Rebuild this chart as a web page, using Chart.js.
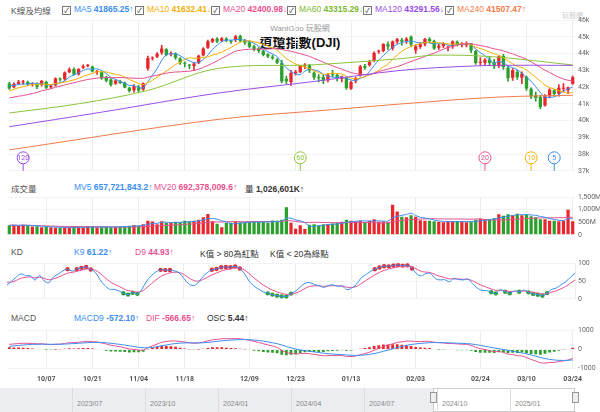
<!DOCTYPE html>
<html><head><meta charset="utf-8">
<script src="https://cdn.jsdelivr.net/npm/chart.js@4"></script>
<style>
body{margin:0;width:600px;height:412px;position:relative;background:#fff;font-family:"Liberation Sans","Noto Sans CJK TC",sans-serif;overflow:hidden}
canvas{position:absolute;left:0}
.hd{position:absolute;left:0;font-size:8.5px;color:#555;white-space:nowrap}
.hd span{position:absolute;top:0}
.hd b{font-weight:700}
.cb{display:inline-block;width:7px;height:7px;border:1px solid #777;font-size:7px;line-height:7px;text-align:center;margin-right:3px;color:#333;vertical-align:-1px;font-style:normal}
.nav{position:absolute;top:388px;height:24px;left:0;width:600px;background:#fff}
.nav div{position:absolute;top:0;height:24px;font-size:7px;color:#888}
</style></head><body>

<div class="hd" style="top:4px">
<span style="left:11px">K線及均線</span>
<span style="left:62px;color:#3a8ef0"><i class="cb">✓</i>MA5 <b>41865.25↑</b></span>
<span style="left:135px;color:#f5b000"><i class="cb">✓</i>MA10 <b>41632.41↓</b></span>
<span style="left:211px;color:#e8508f"><i class="cb">✓</i>MA20 <b>42400.98↓</b></span>
<span style="left:287px;color:#7cb82f"><i class="cb">✓</i>MA60 <b>43315.29↓</b></span>
<span style="left:363px;color:#9a4ce8"><i class="cb">✓</i>MA120 <b>43291.56↓</b></span>
<span style="left:445px;color:#f47a4a"><i class="cb">✓</i>MA240 <b>41507.47↑</b></span>
<span style="left:562px;color:#ccc;font-size:7px;top:6px">玩股網</span>
</div>
<div class="hd" style="top:22px;left:0;width:600px;text-align:center;color:#999;font-size:8px">WantGoo 玩股網</div>
<div class="hd" style="top:32px;left:0;width:600px;text-align:center;color:#111;font-size:13px;font-weight:700">道瓊指數(DJI)</div>

<div class="hd" style="top:182px">
<span style="left:11px">成交量</span>
<span style="left:74px;color:#3a8ef0">MV5 <b>657,721,843.2↑</b></span>
<span style="left:154px;color:#e8508f">MV20 <b>692,378,009.6↑</b></span>
<span style="left:245px;color:#333">量 <b>1,026,601K↑</b></span>
</div>
<div class="hd" style="top:247px">
<span style="left:11px">KD</span>
<span style="left:74px;color:#3a8ef0">K9 <b>61.22↑</b></span>
<span style="left:135px;color:#e8508f">D9 <b>44.93↑</b></span>
<span style="left:200px;color:#333">K值 &gt; 80為紅點</span>
<span style="left:270px;color:#333">K值 &lt; 20為綠點</span>
</div>
<div class="hd" style="top:313px">
<span style="left:11px">MACD</span>
<span style="left:74px;color:#3a8ef0">MACD9 <b>-572.10↑</b></span>
<span style="left:146px;color:#e8508f">DIF <b>-566.65↑</b></span>
<span style="left:207px;color:#333">OSC <b>5.44↑</b></span>
</div>

<canvas id="main" style="top:0" width="600" height="178"></canvas>
<canvas id="vol" style="top:190px" width="600" height="52"></canvas>
<canvas id="kd" style="top:256px" width="600" height="50"></canvas>
<canvas id="macd" style="top:323px" width="600" height="66"></canvas>
<div class="nav" id="nav"></div>

<script>
// trading days shown
const dates = [
 '09/25','09/26','09/27','09/30',
 '10/01','10/02','10/03','10/04','10/07','10/08','10/09','10/10','10/11','10/14','10/15','10/16','10/17','10/18','10/21','10/22','10/23','10/24','10/25','10/28','10/29','10/30','10/31',
 '11/01','11/04','11/05','11/06','11/07','11/08','11/11','11/12','11/13','11/14','11/15','11/18','11/19','11/20','11/21','11/22','11/25','11/26','11/27','11/29',
 '12/02','12/03','12/04','12/05','12/06','12/09','12/10','12/11','12/12','12/13','12/16','12/17','12/18','12/19','12/20','12/23','12/24','12/26','12/27','12/30','12/31',
 '01/02','01/03','01/06','01/07','01/08','01/10','01/13','01/14','01/15','01/16','01/17','01/21','01/22','01/23','01/24','01/27','01/28','01/29','01/30','01/31',
 '02/03','02/04','02/05','02/06','02/07','02/10','02/11','02/12','02/13','02/14','02/18','02/19','02/20','02/21','02/24','02/25','02/26','02/27','02/28',
 '03/03','03/04','03/05','03/06','03/07','03/10','03/11','03/12','03/13','03/14','03/17','03/18','03/19','03/20','03/21','03/24'];
const tickDates = ['10/07','10/21','11/04','11/18','12/09','12/23','01/13','02/03','02/24','03/10','03/24'];

const opens = [42210,41990,42200,42280,
 42300,42150,42150,42150,42300,41980,42090,42480,42460,42880,43080,42760,43150,43250,43230,42900,42880,42550,42450,42200,42350,42250,41950,
 41800,42020,41850,43100,43700,43800,44050,44250,43950,43980,43700,43400,43300,43250,43450,43900,44350,44700,44880,44760,
 44900,44750,44800,45050,44800,44650,44420,44300,44150,43950,43800,43650,43450,42500,42300,42820,42900,43250,43300,42850,42600,
 42600,42400,42750,42720,42500,42550,41900,42350,42700,43250,43300,43550,44100,44150,44550,44300,44700,44820,44750,45000,
 44200,44400,44550,44880,44750,44350,44450,44350,44400,44700,44550,44500,44600,44150,43450,43450,43650,43500,43250,
 43850,43150,42550,42900,42550,42600,41900,41500,41400,40900,41450,41800,41600,41900,41800,42200];
const closes = [41915,42175,42313,42330,
 42156,42196,42011,42352,41954,42080,42512,42454,42863,43065,42740,43077,43239,43275,42931,42924,42514,42374,42114,42387,42233,41977,41763,
 42052,41794,42222,43729,43729,43988,44293,43910,43958,43750,43444,43389,43268,43408,43870,44296,44736,44860,44722,44910,
 44782,44705,45014,44765,44642,44401,44248,44149,43914,43828,43717,43449,42326,42342,42840,42906,43297,43325,42992,42573,42544,
 42392,42732,42706,42528,42635,41938,42297,42518,43221,43153,43488,44025,44157,44565,44424,44714,44850,44713,44882,44545,
 44421,44556,44873,44747,44303,44470,44593,44368,44711,44546,44556,44627,44176,43428,43461,43621,43433,43239,43841,
 43191,42520,43006,42579,42801,41912,41433,41350,40813,41488,41841,41581,41964,41953,41985,42583];
const highs = [42300,42250,42400,42400,
 42350,42250,42250,42400,42350,42150,42550,42550,42900,43150,43150,43100,43320,43350,43250,43000,42900,42650,42500,42450,42400,42300,42000,
 42150,42100,42250,43850,43800,44050,44490,44300,44100,44050,43750,43500,43350,43450,43900,44350,44800,44900,44950,44950,
 44950,44800,45080,45100,44850,44750,44500,44350,44200,44000,43900,43700,43600,42650,43000,43000,43300,43400,43350,42900,42750,
 42700,42800,43000,42800,42650,42600,42350,42600,43300,43350,43600,44100,44200,44600,44700,44750,44900,44900,44950,45050,
 44500,44650,44900,44950,44800,44550,44650,44450,44750,44750,44650,44700,44600,44200,43750,43700,43800,43650,43850,
 43950,43300,43100,43000,42900,42650,41950,41700,41500,41550,41900,41850,42150,42200,42000,42650];
const lows = [41850,41950,42150,42150,
 42100,42050,41900,42050,41900,41900,42050,42350,42400,42850,42700,42700,43100,43200,42900,42750,42450,42300,42050,42150,42200,41950,41700,
 41700,41700,41800,43000,43600,43750,43950,43850,43850,43650,43350,43200,43100,43000,43400,43850,44300,44650,44650,44700,
 44700,44600,44700,44700,44550,44350,44150,44050,43850,43750,43650,43400,42250,42200,42100,42700,42850,43100,42850,42450,42300,
 42200,42300,42600,42350,42300,41850,41850,42250,42650,43050,43250,43500,44000,44100,44250,44200,44600,44500,44600,44400,
 44000,44300,44450,44650,44250,44250,44350,44150,44300,44450,44400,44400,44050,43350,43300,43300,43300,43100,43150,
 43050,42350,42400,42450,42200,41800,41300,41150,40700,40850,41350,41500,41450,41700,41600,42150];
// closes before the visible range (for the moving averages)
const priorCloses = [41091,41335,41563,40936,40974,40755,40345,40829,40737,40861,41097,41394,41622,41606,41503,42025,42063,42124,42208];
// volume in millions
const volumes = [380,390,360,400,
 370,330,340,300,320,300,290,280,300,290,320,300,290,320,330,300,310,320,300,320,330,340,360,
 390,360,420,560,530,420,540,470,480,520,500,560,540,560,600,700,830,540,440,300,
 470,480,520,500,490,520,510,520,530,480,570,560,600,1100,480,240,380,230,400,420,380,
 420,430,450,470,520,600,560,540,560,510,560,620,520,530,500,1200,930,720,700,780,
 720,580,560,560,540,520,500,540,530,540,520,500,520,600,640,630,620,660,820,
 760,820,780,840,780,820,740,700,620,620,560,560,540,560,1000,540];
// long averages: [day index, value]
const ma60Pts = [[0,40450],[15,41000],[30,41800],[45,43100],[66,43330],[85,43700],[92,43900],[105,43800],[122,43315]];
const ma120Pts = [[0,39630],[20,40500],[45,41630],[66,42330],[85,43000],[100,43250],[110,43300],[122,43290]];
const ma240Pts = [[0,38250],[45,40060],[70,40650],[90,41100],[106,41400],[122,41507]];
const navLabels = ['2023/07','2023/10','2024/01','2024/04','2024/07','2024/10','2025/01'];

const RED = '#e8262c', GREEN = '#2ca02c';
const C = {ma5:'#3a8ef0', ma10:'#f5b000', ma20:'#e8508f', ma60:'#8cc43a', ma120:'#9a4ce8', ma240:'#f47a4a'};
const n = closes.length;
const up = closes.map((c, i) => c >= opens[i]);
const allCloses = priorCloses.concat(closes);
const off = priorCloses.length;

function sma(arr, len, shift) {
    return closes.map((_, i) => {
        const j = i + shift;
        const s = arr.slice(Math.max(0, j - len + 1), j + 1);
        return s.reduce((a, b) => a + b, 0) / s.length;
    });
}
function sparse(pts) {
    const a = new Array(n).fill(null);
    pts.forEach(([i, v]) => a[i] = v);
    return a;
}
function ema(arr, len) {
    const k = 2 / (len + 1); let e = arr[0];
    return arr.map(v => (e = v * k + e * (1 - k)));
}

// KD (9)
const K = [], D = [];
let kp = 50, dp = 50;
for (let i = 0; i < n; i++) {
    const hh = Math.max(...highs.slice(Math.max(0, i - 8), i + 1));
    const ll = Math.min(...lows.slice(Math.max(0, i - 8), i + 1));
    const rsv = (closes[i] - ll) / (hh - ll) * 100;
    kp = kp * 2 / 3 + rsv / 3; dp = dp * 2 / 3 + kp / 3;
    K.push(kp); D.push(dp);
}
// MACD
const e12 = ema(allCloses, 12), e26 = ema(allCloses, 26);
const difAll = e12.map((v, i) => v - e26[i]);
const sigAll = ema(difAll, 9);
const dif = difAll.slice(off), sig = sigAll.slice(off);
const osc = dif.map((v, i) => v - sig[i]);

Chart.defaults.font.family = 'Roboto, "Noto Sans", sans-serif';
Chart.defaults.font.size = 8;
Chart.defaults.color = '#666';
Chart.defaults.animation = false;

const xGrid = {
    offset: false, drawTicks: false,
    color: ctx => tickDates.includes(dates[ctx.index]) ? '#ececec' : 'rgba(0,0,0,0)'
};
function yAxis(min, max, step, fmt) {
    return {
        position: 'right', min, max,
        grid: {color: '#f3f3f3', drawTicks: false}, border: {display: false},
        ticks: {stepSize: step, padding: 3, callback: fmt, font: {size: 7}},
        afterFit: s => { s.width = 25; }
    };
}
function opts(yScale, showX) {
    return {
        responsive: false, maintainAspectRatio: false,
        layout: {padding: {left: 7, top: 6, bottom: 1}},
        plugins: {legend: {display: false}, tooltip: {enabled: false}},
        scales: {
            x: {grid: xGrid, border: {display: false},
                ticks: {display: !!showX, autoSkip: false, maxRotation: 0, padding: 6, font: {size: 7, weight: 'bold'}, color: '#555',
                        callback: (v, i) => tickDates.includes(dates[i]) ? dates[i] : ''}},
            y: yScale
        }
    };
}
const line = (data, color, w) => ({type: 'line', data, borderColor: color, borderWidth: w || 1, pointRadius: 0, tension: 0.35, spanGaps: true});

// MA badges at the bottom of the price chart
const badgePlugin = {
    id: 'badges',
    afterDatasetsDraw(chart) {
        const {ctx, scales: {x}, chartArea} = chart;
        [[120, C.ma120], [60, C.ma60], [20, C.ma20], [10, C.ma10], [5, C.ma5]].forEach(([p, col]) => {
            const px = x.getPixelForValue(n - p), cy = chartArea.bottom - 13;
            ctx.save();
            ctx.strokeStyle = col; ctx.lineWidth = 1;
            ctx.beginPath(); ctx.moveTo(px, cy + 6); ctx.lineTo(px, chartArea.bottom); ctx.stroke();
            ctx.beginPath(); ctx.arc(px, cy, 6, 0, Math.PI * 2); ctx.fillStyle = '#fff'; ctx.fill(); ctx.stroke();
            ctx.fillStyle = col; ctx.font = '7px Roboto'; ctx.textAlign = 'center'; ctx.textBaseline = 'middle';
            ctx.fillText(String(p), px, cy + 0.5);
            ctx.restore();
        });
    }
};

const mainOpts = opts(yAxis(37000, 46000, 1000, v => (v / 1000) + 'k'));
mainOpts.layout.padding.top = 20; mainOpts.layout.padding.bottom = 4;
new Chart(document.getElementById('main'), {
    type: 'bar',
    data: {labels: dates, datasets: [
        line(sparse(ma240Pts), C.ma240), line(sparse(ma120Pts), C.ma120), line(sparse(ma60Pts), C.ma60),
        line(sma(allCloses, 20, off), C.ma20), line(sma(allCloses, 10, off), C.ma10), line(sma(allCloses, 5, off), C.ma5),
        {data: dates.map((_, i) => [lows[i], highs[i]]), backgroundColor: up.map(u => u ? RED : GREEN), barThickness: 1, grouped: false},
        {data: dates.map((_, i) => [opens[i], closes[i]]), backgroundColor: up.map(u => u ? RED : GREEN),
         categoryPercentage: 1, barPercentage: 0.72, grouped: false, minBarLength: 1}
    ]},
    options: mainOpts,
    plugins: [badgePlugin]
});

new Chart(document.getElementById('vol'), {
    type: 'bar',
    data: {labels: dates, datasets: [
        line(sma(volumes, 5, 0), C.ma5), line(sma(volumes, 20, 0), C.ma20),
        {data: volumes, backgroundColor: up.map(u => u ? RED : GREEN), categoryPercentage: 1, barPercentage: 0.7}
    ]},
    options: opts(yAxis(0, 1500, 500, v => v === 0 ? '0' : v.toLocaleString('en-US') + 'M'))
});

const dotR = ctx => (K[ctx.dataIndex] > 80 || K[ctx.dataIndex] < 20) ? 2.2 : 0;
const dotC = ctx => K[ctx.dataIndex] > 80 ? RED : GREEN;
new Chart(document.getElementById('kd'), {
    type: 'line',
    data: {labels: dates, datasets: [
        line(K, C.ma5), line(D, C.ma20),
        {data: K, showLine: false, pointRadius: dotR, pointBackgroundColor: dotC, pointBorderWidth: 0}
    ]},
    options: opts(yAxis(0, 100, 50))
});

const macdOpts = opts(yAxis(-1000, 1000, 500), true);
macdOpts.layout.padding.bottom = 0;
new Chart(document.getElementById('macd'), {
    type: 'bar',
    data: {labels: dates, datasets: [
        line(sig, C.ma5), line(dif, C.ma20),
        {data: osc, backgroundColor: osc.map(v => v >= 0 ? RED : GREEN), categoryPercentage: 1, barPercentage: 0.6}
    ]},
    options: macdOpts
});

// range navigator
const nav = document.getElementById('nav');
nav.innerHTML = '<div style="left:0;width:433px;background:#eceef1"></div>' +
  '<div style="left:433px;width:142px;border:1px solid #ccc;box-sizing:border-box;background:#fff"></div>' +
  navLabels.map((t, i) => `<div style="left:${72 + i * 73}px;border-left:1px solid #ddd;padding:12px 0 0 4px;height:12px">${t}</div>`).join('') +
  '<div style="left:430px;top:4px;width:5px;height:9px;border:1px solid #999;background:#eee"></div>' +
  '<div style="left:572px;top:4px;width:5px;height:9px;border:1px solid #999;background:#eee"></div>';
</script>
</body></html>
